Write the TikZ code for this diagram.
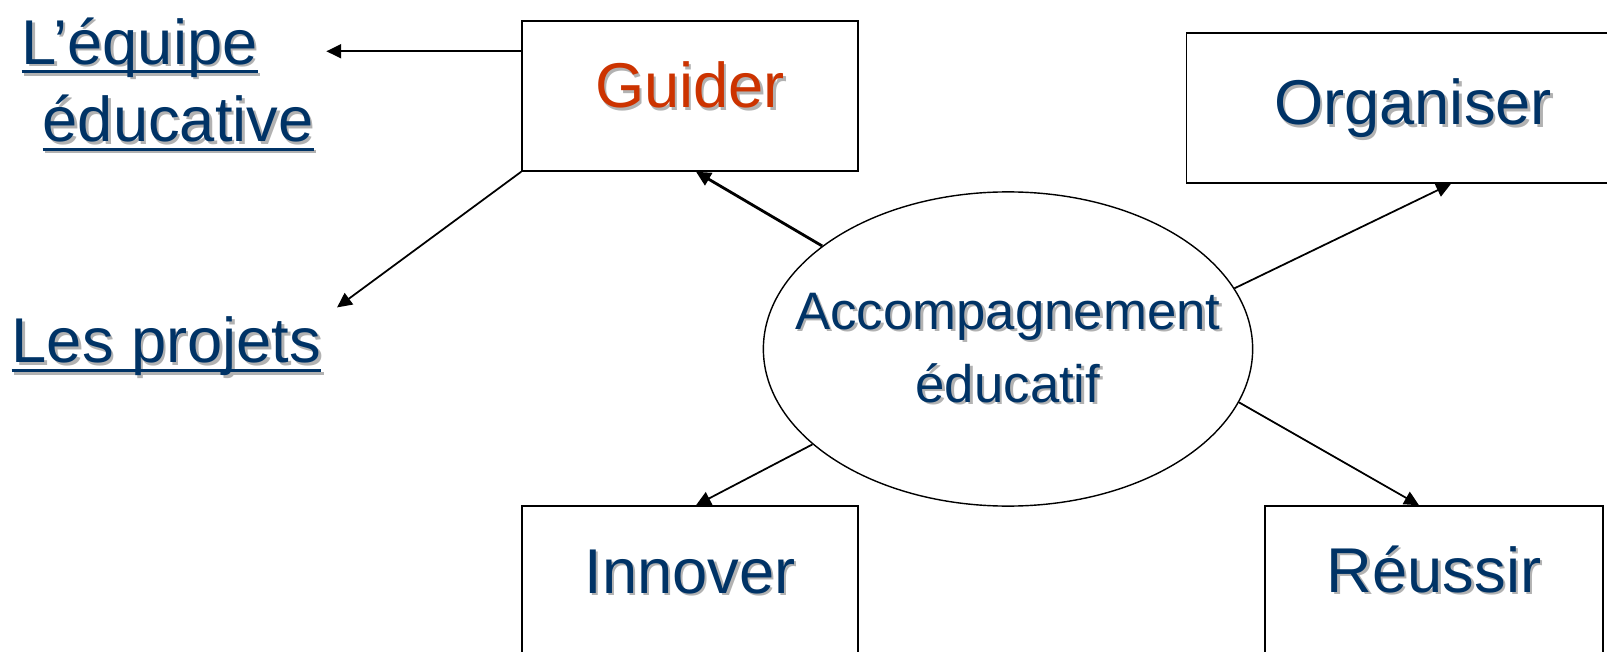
\documentclass[tikz,border=0pt]{standalone}
\usepackage{fontspec}
\setmainfont{Liberation Sans}
\usetikzlibrary{arrows.meta,shapes.geometric}

\definecolor{navy}{RGB}{0,51,102}
\definecolor{rust}{RGB}{204,51,0}
\definecolor{shade}{RGB}{178,178,178}

\newbox\lnkbox
\newcommand\shd[1]{\leavevmode\rlap{\kern0.7pt\raisebox{-0.7pt}{\textcolor{shade}{#1}}}#1}
\newcommand\lnk[1]{\setbox\lnkbox\hbox{#1}%
  \rlap{\kern0.7pt\textcolor{shade}{\raisebox{-0.7pt}{\copy\lnkbox}\kern-\wd\lnkbox\rule[-3.3pt]{\wd\lnkbox}{0.85pt}}}%
  \rlap{\rule[-2.6pt]{\wd\lnkbox}{0.85pt}}\box\lnkbox}

\tikzset{
  box/.style={draw, inner sep=0pt, text height=0.87cm, text depth=0.63cm, minimum width=3.36cm},
  arr/.style={-{Triangle[length=4.2pt,width=4pt]}, line width=0.5pt},
  big/.style={font=\fontsize{18}{22}\selectfont, text=navy}
}

\begin{document}
\begin{tikzpicture}[x=0.01cm, y=-0.01cm]
            \useasboundingbox (0,0) rectangle (1607,652);
            \clip (0,0) rectangle (1607,652);

            \node[box, big, text=rust, anchor=base] (guider) at (690,108) {\shd{Guider}};
            \node[box, big, anchor=base, minimum width=4.53cm, text height=0.92cm, text depth=0.58cm] (organiser) at (1413,125) {\shd{Organiser}};
            \node[box, big, anchor=base] (innover) at (690,593) {\shd{Innover}};
            \node[box, big, anchor=base, minimum width=3.38cm, text height=0.86cm, text depth=0.64cm] (reussir) at (1434,592) {\shd{Réussir}};

            \node[ellipse, draw, inner xsep=-12pt, inner ysep=0pt, minimum width=4.89cm, minimum height=3.14cm, align=center, font=\fontsize{15}{20.8}\selectfont, text=navy] (accomp) at (1008,349) {\shd{Accompagnement}\\\shd{éducatif}};

            \node[big, align=left, inner sep=0pt, anchor=north west] (equipe) at (21,17) {\lnk{L’équipe}\\\hspace*{0.21cm}\lnk{éducative}};
            \node[big, inner sep=0pt, anchor=base west] (projets) at (11,363) {\lnk{Les projets}};

            \coordinate (gl) at ([yshift=-0.31cm]guider.north west);
            \draw[arr, shorten >=0.12cm] (gl) -- (gl -| equipe.east);
            \draw[arr] (guider.south west) -- ([shift={(0.15cm,0.09cm)}]projets.north east);
            \draw[arr, line width=0.8pt] (accomp.151) -- ([xshift=0.06cm]guider.south);
            \draw[arr] (accomp.15) -- ([xshift=0.38cm]organiser.south);
            \draw[arr] (accomp.206) -- ([xshift=0.06cm]innover.north);
            \draw[arr] (accomp.347) -- ([xshift=-0.15cm]reussir.north);
        \end{tikzpicture}
\end{document}
